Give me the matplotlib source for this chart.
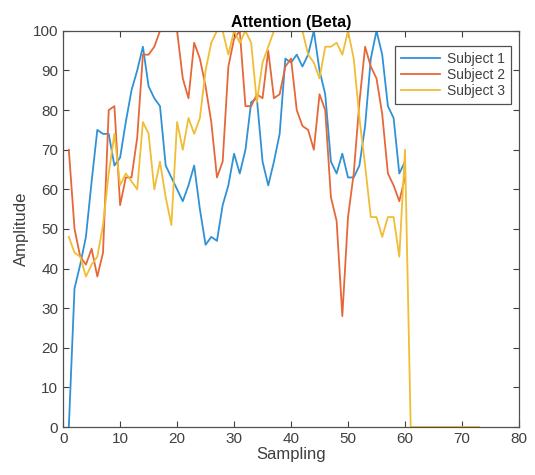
import matplotlib
matplotlib.use("Agg")
import matplotlib.pyplot as plt
import numpy as np

plt.rcParams["font.family"] = ["Liberation Sans", "DejaVu Sans"]

# sample index for each subject
x12 = np.arange(1, 61)
x3 = np.arange(1, 74)

subject1 = [0, 35, 41, 48, 62, 75, 74, 74, 66, 68,
            77, 85, 90, 96, 86, 83, 81, 66, 63, 60,
            57, 61, 66, 55, 46, 48, 47, 56, 61, 69,
            64, 70, 82, 83, 67, 61, 67, 74, 93, 92,
            94, 91, 94, 100, 90, 84, 67, 64, 69, 63,
            63, 66, 76, 93, 100, 94, 81, 78, 64, 67]

subject2 = [70, 50, 43, 41, 45, 38, 44, 80, 81, 56,
            63, 63, 73, 94, 94, 96, 100, 100, 100, 100,
            88, 83, 97, 93, 86, 77, 63, 67, 91, 98,
            100, 81, 81, 84, 83, 95, 83, 84, 91, 93,
            80, 76, 75, 70, 84, 80, 58, 52, 28, 53,
            64, 82, 96, 91, 88, 79, 64, 61, 57, 63]

subject3 = [48, 44, 43, 38, 41, 43, 51, 64, 74, 61,
            64, 62, 60, 77, 74, 60, 67, 58, 51, 77,
            70, 78, 74, 78, 90, 97, 100, 100, 94, 100,
            97, 100, 97, 82, 92, 96, 100, 100, 100, 100,
            100, 100, 94, 92, 88, 96, 96, 97, 94, 100,
            93, 78, 66, 53, 53, 48, 53, 53, 43, 70,
            0, 0, 0, 0, 0, 0, 0, 0, 0, 0, 0, 0, 0]

labels = ["Subject 1", "Subject 2", "Subject 3"]
colors = ["#2f92d6", "#e5683a", "#f0bd35"]

fig = plt.figure(figsize=(5.35, 4.75), dpi=100)
ax = fig.add_axes([0.118, 0.101, 0.852, 0.834])

ax.plot(x12, subject1, color=colors[0], lw=1.3, label=labels[0])
ax.plot(x12, subject2, color=colors[1], lw=1.3, label=labels[1])
ax.plot(x3, subject3, color=colors[2], lw=1.3, label=labels[2])

ax.set_xlim(0, 80)
ax.set_ylim(0, 100)
ax.set_xticks(np.arange(0, 81, 10))
ax.set_yticks(np.arange(0, 101, 10))
ax.tick_params(direction="in", top=True, right=True, labelsize=11,
               colors="#404040", length=4)
for s in ax.spines.values():
    s.set_color("#505050")
    s.set_linewidth(0.9)

ax.set_title("Attention (Beta)", fontsize=11.5, fontweight="bold", pad=3)
ax.set_xlabel("Sampling", fontsize=12, labelpad=1, color="#404040")
ax.set_ylabel("Amplitude", fontsize=12, labelpad=3, color="#404040")

leg = ax.legend(loc="upper right", bbox_to_anchor=(0.983, 0.963), fontsize=10,
                fancybox=False, framealpha=1, edgecolor="#505050",
                handlelength=2.8, labelspacing=0.15, borderpad=0.45,
                handletextpad=0.5, borderaxespad=0)
for t in leg.get_texts():
    t.set_color("#404040")
leg.get_frame().set_linewidth(0.9)

fig.savefig("out.png", dpi=100)
